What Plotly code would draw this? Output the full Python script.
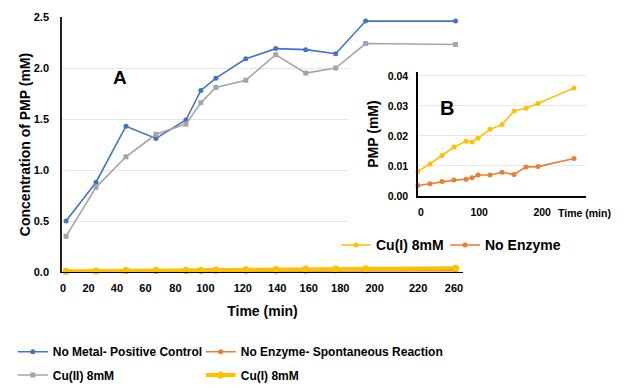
import plotly.graph_objects as go

# ---------------- data ----------------
TIME_MIN = [5, 25, 45, 65, 85, 95, 105, 125, 145, 165, 185, 205, 265]

NO_METAL = [0.50, 0.88, 1.43, 1.31, 1.49, 1.78, 1.90, 2.09, 2.19, 2.18, 2.14, 2.46, 2.46]
CU_II = [0.35, 0.83, 1.13, 1.35, 1.45, 1.66, 1.81, 1.88, 2.13, 1.95, 2.00, 2.24, 2.23]
NO_ENZYME = [0.0035, 0.0041, 0.0048, 0.0053, 0.0056, 0.0061, 0.0070, 0.0070,
             0.0079, 0.0072, 0.0097, 0.0098, 0.0125]
CU_I = [0.0082, 0.0107, 0.0135, 0.0163, 0.0182, 0.0180, 0.0192, 0.0222,
        0.0238, 0.0283, 0.0292, 0.0308, 0.0360]

MAIN_Y_TICKS = [0.0, 0.5, 1.0, 1.5, 2.0, 2.5]
MAIN_X_TICK_LABELS = ["0", "20", "40", "60", "80", "100", "120", "140",
                      "160", "180", "200", "220", "260"]
MAIN_X_TICK_AT = [3, 20, 39, 58, 78, 98, 123, 146, 167, 188, 211, 240, 264]
INSET_Y_TICKS = [0.00, 0.01, 0.02, 0.03, 0.04]
INSET_X_TICK_LABELS = ["0", "100", "200"]
INSET_X_TICK_AT = [10, 107, 212]

# ---------------- styling ----------------
FONT = "Liberation Sans, Arial, sans-serif"
BLUE = "#4472C4"
GRAY = "#A5A5A5"
ORANGE = "#ED7D31"
YELLOW = "#FFC000"
GRID = "#e6e6e6"


def bold(size, color="#000000"):
    return dict(family=FONT, size=size, color=color, weight="bold")


fig = go.Figure()

# main chart A
fig.add_trace(go.Scatter(x=TIME_MIN, y=NO_METAL, name="No Metal- Positive Control",
                         mode="lines+markers", line=dict(color=BLUE, width=1.6),
                         marker=dict(symbol="circle", size=5, color=BLUE),
                         legend="legend", legendwidth=143,
                         xaxis="x", yaxis="y", cliponaxis=False))
fig.add_trace(go.Scatter(x=TIME_MIN, y=CU_II, name="Cu(II) 8mM",
                         mode="lines+markers", line=dict(color=GRAY, width=1.6),
                         marker=dict(symbol="square", size=5, color=GRAY),
                         legend="legend3", legendwidth=143,
                         xaxis="x", yaxis="y", cliponaxis=False))
fig.add_trace(go.Scatter(x=TIME_MIN, y=NO_ENZYME, name="No Enzyme- Spontaneous Reaction",
                         mode="lines+markers", line=dict(color=ORANGE, width=1.6),
                         marker=dict(symbol="circle", size=5, color=ORANGE),
                         legend="legend", legendwidth=210,
                         xaxis="x", yaxis="y", cliponaxis=False))
fig.add_trace(go.Scatter(x=TIME_MIN, y=CU_I, name="Cu(I) 8mM",
                         mode="lines+markers", line=dict(color=YELLOW, width=4),
                         marker=dict(symbol="circle", size=7, color=YELLOW),
                         legend="legend3", legendwidth=90,
                         xaxis="x", yaxis="y", cliponaxis=False))

# white panel behind the inset (empty subplot whose background hides the grid)
fig.add_trace(go.Scatter(x=[], y=[], showlegend=False, hoverinfo="skip",
                         xaxis="x2", yaxis="y2"))

# inset B
fig.add_trace(go.Scatter(x=TIME_MIN, y=CU_I, name="Cu(I) 8mM",
                         mode="lines+markers", line=dict(color=YELLOW, width=1.6),
                         marker=dict(symbol="circle", size=5, color=YELLOW),
                         legend="legend2", legendwidth=64,
                         xaxis="x3", yaxis="y3", cliponaxis=False))
fig.add_trace(go.Scatter(x=TIME_MIN, y=NO_ENZYME, name="No Enzyme",
                         mode="lines+markers", line=dict(color=ORANGE, width=1.6),
                         marker=dict(symbol="circle", size=5, color=ORANGE),
                         legend="legend2", legendwidth=90,
                         xaxis="x3", yaxis="y3", cliponaxis=False))

# the page body keeps its default 8px margin, so the figure is 8px smaller
fig.update_layout(
    width=630, height=382,
    margin=dict(l=54, r=52, t=9, b=118, autoexpand=False),
    paper_bgcolor="white", plot_bgcolor="white",
    font=dict(family=FONT, size=11, color="#000000"),
    showlegend=True,
    xaxis=dict(domain=[0, 0.7653], range=[2.3, 270], anchor="y",
               tickmode="array", tickvals=MAIN_X_TICK_AT, ticktext=MAIN_X_TICK_LABELS,
               tickfont=bold(11), showgrid=False, zeroline=False,
               showline=True, linecolor="#000000", linewidth=1,
               ticks="", ticklabelstandoff=6,
               title=dict(text="Time (min)", font=bold(14), standoff=12)),
    yaxis=dict(domain=[0, 1], range=[0, 2.5], anchor="x",
               tickmode="array", tickvals=MAIN_Y_TICKS, tickformat=".1f",
               tickfont=bold(11), showgrid=True, gridcolor=GRID, gridwidth=1,
               zeroline=False, showline=True, linecolor="#222222", linewidth=1.5,
               ticks="", ticklabelstandoff=9,
               title=dict(text="Concentration of PMP (mM)", font=bold(14), standoff=0)),
    xaxis2=dict(domain=[0.5458, 1], anchor="y2", visible=False, range=[0, 1]),
    yaxis2=dict(domain=[0.0549, 0.8235], anchor="x2", visible=False, range=[0, 1]),
    xaxis3=dict(domain=[0.6794, 1], range=[5, 285], anchor="y3",
                tickmode="array", tickvals=INSET_X_TICK_AT, ticktext=INSET_X_TICK_LABELS,
                tickfont=bold(10.5), showgrid=False, zeroline=False,
                showline=True, linecolor="#000000", linewidth=1.5,
                ticks="", ticklabelstandoff=6),
    yaxis3=dict(domain=[0.2980, 0.7843], range=[0, 0.0413], anchor="x3",
                tickmode="array", tickvals=INSET_Y_TICKS, tickformat=".2f",
                tickfont=bold(10.5), showgrid=True, gridcolor=GRID, gridwidth=1,
                zeroline=False, showline=True, linecolor="#000000", linewidth=1.5,
                ticks="", ticklabelstandoff=6,
                title=dict(text="PMP (mM)", font=bold(14), standoff=6)),
    legend=dict(orientation="h", x=-0.094, xanchor="left", y=-0.2557, yanchor="top",
                entrywidthmode="pixels", itemwidth=30,
                font=bold(12), bgcolor="rgba(0,0,0,0)", traceorder="normal"),
    legend3=dict(orientation="h", x=-0.094, xanchor="left", y=-0.347, yanchor="top",
                 entrywidthmode="pixels", itemwidth=30,
                 font=bold(12), bgcolor="rgba(0,0,0,0)", traceorder="normal"),
    legend2=dict(orientation="h", x=0.5229, xanchor="left", y=0.167, yanchor="top",
                 entrywidthmode="pixels", itemwidth=30,
                 font=bold(14), bgcolor="rgba(0,0,0,0)", traceorder="normal"),
    annotations=[
        dict(text="A", x=0.1107, y=0.7608, xref="paper", yref="paper",
             showarrow=False, font=bold(19), xanchor="center", yanchor="middle"),
        dict(text="B", x=0.7347, y=0.6431, xref="paper", yref="paper",
             showarrow=False, font=bold(20), xanchor="center", yanchor="middle"),
        dict(text="Time (min)", x=0.998, y=0.2314, xref="paper", yref="paper",
             showarrow=False, font=bold(10.5), xanchor="center", yanchor="middle"),
    ],
)

fig.write_html("out.html")
